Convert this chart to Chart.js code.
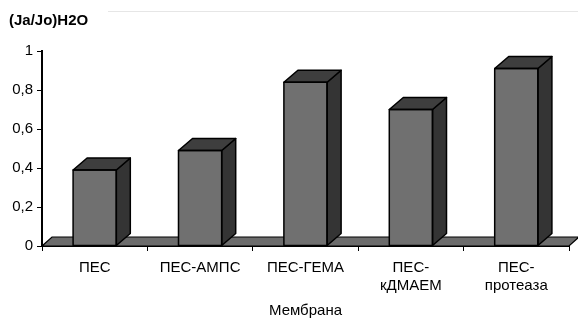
<!DOCTYPE html>
<html>
<head>
<meta charset="utf-8">
<script src="https://cdn.jsdelivr.net/npm/chart.js@4/dist/chart.umd.min.js"></script>
<style>
html,body{margin:0;padding:0;background:#fff;}
#wrap{width:578px;height:320px;position:relative;}
</style>
</head>
<body>
<div id="wrap"><canvas id="c" width="578" height="320"></canvas></div>
<script>
const categories = ['ПЕС', 'ПЕС-АМПС', 'ПЕС-ГЕМА', ['ПЕС-', 'кДМАЕМ'], ['ПЕС-', 'протеаза']];
const values = [0.39, 0.49, 0.84, 0.70, 0.91];
const yTitle = '(Ja/Jo)H2O';
const xTitle = 'Мембрана';

const FONT = "'Liberation Sans', Arial, sans-serif";
const BAR_DX = 14, BAR_DY = -12;
const FLOOR_DX = 10, FLOOR_DY = -9;

function poly(ctx, pts, fill) {
  ctx.beginPath();
  ctx.moveTo(pts[0][0], pts[0][1]);
  for (let i = 1; i < pts.length; i++) ctx.lineTo(pts[i][0], pts[i][1]);
  ctx.closePath();
  ctx.fillStyle = fill;
  ctx.fill();
  ctx.stroke();
}

const threeD = {
  id: 'threeD',
  beforeDatasetsDraw(chart) {
    const ctx = chart.ctx;
    const a = chart.chartArea;
    const y0 = chart.scales.y.getPixelForValue(0);
    ctx.save();
    ctx.strokeStyle = '#000';
    ctx.lineWidth = 1.2;
    poly(ctx, [[a.left, y0], [a.left + FLOOR_DX, y0 + FLOOR_DY], [a.right + FLOOR_DX, y0 + FLOOR_DY], [a.right, y0]], '#6c6c6c');
    ctx.restore();
  },
  afterDatasetsDraw(chart) {
    const ctx = chart.ctx;
    const meta = chart.getDatasetMeta(0);
    ctx.save();
    ctx.strokeStyle = '#000';
    ctx.lineWidth = 1.5;
    ctx.lineJoin = 'round';
    meta.data.forEach(el => {
      const p = el.getProps(['x', 'y', 'base', 'width'], true);
      const l = p.x - p.width / 2, r = p.x + p.width / 2;
      poly(ctx, [[r, p.y], [r + BAR_DX, p.y + BAR_DY], [r + BAR_DX, p.base + BAR_DY], [r, p.base]], '#343434');
      poly(ctx, [[l, p.y], [l + BAR_DX, p.y + BAR_DY], [r + BAR_DX, p.y + BAR_DY], [r, p.y]], '#3e3e3e');
      ctx.strokeRect(l, p.y, p.width, p.base - p.y);
    });
    // y axis title
    ctx.fillStyle = '#000';
    ctx.font = 'bold 15px ' + FONT;
    ctx.textBaseline = 'middle';
    ctx.textAlign = 'left';
    ctx.fillText(yTitle, 9, 21);
    // faint back-wall edge
    ctx.strokeStyle = '#e6e6e6';
    ctx.lineWidth = 1;
    ctx.beginPath();
    ctx.moveTo(108, 11.5);
    ctx.lineTo(578, 11.5);
    ctx.stroke();
    ctx.restore();
  }
};

new Chart(document.getElementById('c'), {
  type: 'bar',
  data: {
    labels: categories,
    datasets: [{
      data: values,
      backgroundColor: '#707070',
      borderColor: '#000',
      borderWidth: 0,
      categoryPercentage: 1,
      barPercentage: 0.41
    }]
  },
  options: {
    responsive: false,
    animation: false,
    devicePixelRatio: 1,
    layout: { padding: { top: 51, right: 9, bottom: 0, left: 0 } },
    plugins: { legend: { display: false }, tooltip: { enabled: false }, title: { display: false } },
    scales: {
      x: {
        grid: { display: true, drawOnChartArea: false, drawTicks: true, tickLength: 5, color: '#000', offset: true },
        border: { display: true, color: '#000', width: 1 },
        ticks: { color: '#000', font: { family: FONT, size: 15 }, padding: 8, maxRotation: 0, autoSkip: false },
        title: { display: true, text: xTitle, color: '#000', font: { family: FONT, size: 15 }, padding: { top: 0, bottom: 0 } },
        afterFit(s) { s.height = 74; }
      },
      y: {
        min: 0, max: 1,
        grid: { display: true, drawOnChartArea: false, drawTicks: true, tickLength: 5, color: '#000' },
        border: { display: true, color: '#000', width: 2 },
        ticks: {
          stepSize: 0.2, color: '#000', font: { family: FONT, size: 15 }, padding: 4,
          callback: v => String(Math.round(v * 10) / 10).replace('.', ',')
        },
        afterFit(s) { s.width = 42; }
      }
    }
  },
  plugins: [threeD]
});
</script>
</body>
</html>
